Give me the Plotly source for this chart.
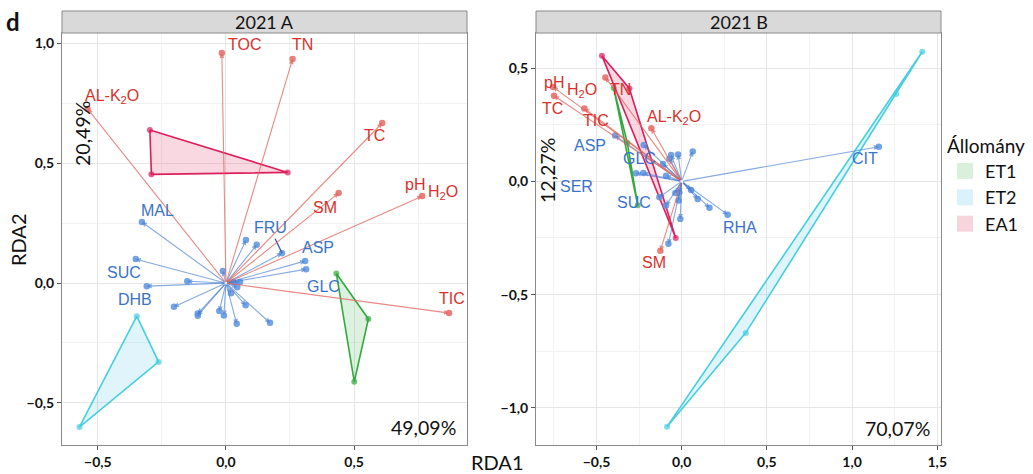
import plotly.graph_objects as go

# ---------------- data: panel 2021 A ----------------
envA_names = ["TOC", "TN", "AL-K<sub>2</sub>O", "TC", "SM", "pH_H2O", "TIC"]
envA_x = [-0.016, 0.26, -0.54, 0.61, 0.44, 0.766, 0.871]
envA_y = [0.96, 0.935, 0.727, 0.668, 0.376, 0.363, -0.125]
envA_lx = [0.074, 0.30, -0.445, 0.578, 0.387, 0.80, 0.883]
envA_ly = [0.998, 0.994, 0.78, 0.618, 0.317, 0.392, -0.063]

spA_x = [-0.328, -0.352, -0.309, 0.219, 0.309, 0.313, 0.078, 0.12, -0.012, -0.151, 0.03,
         0.055, 0.044, 0.02, -0.203, -0.11, -0.11, -0.026, -0.008, 0.077, 0.042, 0.172]
spA_y = [0.255, 0.10, -0.013, 0.125, 0.092, 0.058, 0.18, 0.16, 0.05, 0.008, 0.005,
         0.004, -0.017, -0.043, -0.099, -0.127, -0.136, -0.117, -0.135, -0.093, -0.17, -0.166]
spA_names = ["MAL", "SUC", "DHB", "FRU", "ASP", "GLC"]
spA_lx = [-0.266, -0.398, -0.355, 0.172, 0.359, 0.379]
spA_ly = [0.305, 0.046, -0.067, 0.23, 0.15, -0.013]

grpA = {
    "ET1": ([0.431, 0.556, 0.501], [0.040, -0.150, -0.412]),
    "ET2": ([-0.348, -0.263, -0.572], [-0.138, -0.329, -0.601]),
    "EA1": ([-0.297, -0.291, 0.241], [0.639, 0.454, 0.462]),
}

# ---------------- data: panel 2021 B ----------------
envB_names = ["pH_H2O", "TC", "TIC", "TN", "AL-K<sub>2</sub>O", "SM"]
envB_x = [-0.755, -0.749, -0.571, -0.448, -0.178, -0.125]
envB_y = [0.417, 0.378, 0.322, 0.459, 0.234, -0.306]
envB_lx = [-0.655, -0.759, -0.501, -0.36, -0.045, -0.16]
envB_ly = [0.413, 0.32, 0.268, 0.405, 0.281, -0.36]

spB_x = [1.157, 0.27, -0.391, -0.223, -0.062, -0.021, 0.065, -0.072, -0.11, -0.268, -0.225,
         -0.092, 0.055, 0.094, 0.163, -0.131, -0.037, -0.018, -0.008, -0.078, -0.092, -0.014]
spB_y = [0.153, -0.147, 0.202, 0.16, 0.116, 0.119, 0.132, 0.1, 0.077, 0.036, 0.037,
         0.025, -0.038, -0.078, -0.117, -0.07, -0.051, -0.085, -0.166, -0.276, -0.107, -0.049]
spB_names = ["CIT", "RHA", "ASP", "GLC", "SER", "SUC"]
spB_lx = [1.078, 0.345, -0.538, -0.248, -0.618, -0.278]
spB_ly = [0.10, -0.204, 0.158, 0.10, -0.023, -0.094]

grpB = {
    "ET1": ([-0.399, -0.319, -0.258], [0.412, 0.17, -0.106]),
    "ET2": ([1.412, 0.376, -0.086], [0.572, -0.669, -1.083]),
    "EA1": ([-0.468, -0.307, -0.035], [0.555, 0.41, -0.25]),
}
extraB_ET2 = ([1.259], [0.386])

groups = ["ET1", "ET2", "EA1"]
line_col = {"ET1": "#33A93F", "ET2": "#45CFE0", "EA1": "#DD1E5C"}
fill_col = {"ET1": "rgba(60,180,80,0.18)", "ET2": "rgba(80,200,235,0.18)", "EA1": "rgba(225,40,90,0.18)"}
leg_col = {"ET1": "#D8F0DC", "ET2": "#DAF2FC", "EA1": "#F8D5DD"}

pct_text = ["20,49%", "49,09%", "12,27%", "70,07%"]

RED_LINE = "rgba(226,100,92,0.75)"
RED_DOT = "#E36A64"
RED_TXT = "#D8312B"
BLUE_LINE = "rgba(70,125,210,0.65)"
BLUE_DOT = "#5A93E0"
BLUE_TXT = "#3A74C8"
LABEL_FONT = "Liberation Sans, Arial, sans-serif"
CAL_FONT = "Lato, Open Sans, sans-serif"

fig = go.Figure()
ann = []


def add_panel(xr, yr, env_x, env_y, sp_x, sp_y, grp, extra=None):
    for g in groups:
        gx, gy = grp[g]
        fig.add_trace(go.Scatter(
            x=list(gx) + [gx[0]], y=list(gy) + [gy[0]], xaxis=xr, yaxis=yr,
            mode="lines", fill="toself", fillcolor=fill_col[g],
            line=dict(color=line_col[g], width=1.6), showlegend=False, hoverinfo="skip"))
        px, py = list(gx), list(gy)
        if extra is not None and g == "ET2":
            px += extra[0]
            py += extra[1]
        fig.add_trace(go.Scatter(
            x=px, y=py, xaxis=xr, yaxis=yr, mode="markers",
            marker=dict(color=line_col[g], size=6, opacity=0.7),
            showlegend=False, hoverinfo="skip"))
    axref = "x" if xr == "x" else "x2"
    ayref = "y" if yr == "y" else "y2"
    for xs, ys, col in ((sp_x, sp_y, BLUE_LINE), (env_x, env_y, RED_LINE)):
        for a, b in zip(xs, ys):
            ann.append(dict(x=a, y=b, ax=0, ay=0, xref=axref, yref=ayref,
                            axref=axref, ayref=ayref, showarrow=True, text="",
                            arrowhead=2, arrowsize=0.9, arrowwidth=1.1,
                            arrowcolor=col, standoff=0))
    fig.add_trace(go.Scatter(x=sp_x, y=sp_y, xaxis=xr, yaxis=yr, mode="markers",
                             marker=dict(color=BLUE_DOT, size=6.5, opacity=0.85),
                             showlegend=False, hoverinfo="skip"))
    fig.add_trace(go.Scatter(x=env_x, y=env_y, xaxis=xr, yaxis=yr, mode="markers",
                             marker=dict(color=RED_DOT, size=6.5, opacity=0.85),
                             showlegend=False, hoverinfo="skip"))


add_panel("x", "y", envA_x, envA_y, spA_x, spA_y, grpA)
add_panel("x2", "y2", envB_x, envB_y, spB_x, spB_y, grpB, extraB_ET2)

# FRU leader segment (label -> point)
fig.add_trace(go.Scatter(x=[spA_lx[3] + 0.02, spA_x[3]], y=[spA_ly[3] - 0.045, spA_y[3]],
                         xaxis="x", yaxis="y", mode="lines",
                         line=dict(color="#2F5FA8", width=1.3), showlegend=False, hoverinfo="skip"))


def add_labels(names, lx, ly, col, xr, yr):
    for n, a, b in zip(names, lx, ly):
        f = dict(family=LABEL_FONT, size=16, color=col)
        if n == "pH_H2O":
            ann.append(dict(x=a, y=b, xref=xr, yref=yr, text="pH", showarrow=False,
                            xanchor="right", yanchor="middle", xshift=-4, yshift=5, font=f))
            ann.append(dict(x=a, y=b, xref=xr, yref=yr, text="H<sub>2</sub>O", showarrow=False,
                            xanchor="left", yanchor="middle", xshift=-5, yshift=-3, font=f))
        else:
            ann.append(dict(x=a, y=b, xref=xr, yref=yr, text=n, showarrow=False,
                            xanchor="center", yanchor="middle", font=f))


add_labels(envA_names, envA_lx, envA_ly, RED_TXT, "x", "y")
add_labels(spA_names, spA_lx, spA_ly, BLUE_TXT, "x", "y")
add_labels(envB_names, envB_lx, envB_ly, RED_TXT, "x2", "y2")
add_labels(spB_names, spB_lx, spB_ly, BLUE_TXT, "x2", "y2")

# legend-only traces (square keys)
for g in groups:
    fig.add_trace(go.Scatter(x=[None], y=[None], mode="markers",
                             marker=dict(symbol="square", size=19, color=leg_col[g]),
                             name=g, showlegend=True))

pct_cfg = [(-0.5625, 0.626, "x", "y", -90), (0.773, -0.605, "x", "y", 0),
           (-0.789, 0.047, "x2", "y2", -90), (1.267, -1.091, "x2", "y2", 0)]
for t, (a, b, xr, yr, ang) in zip(pct_text, pct_cfg):
    ann.append(dict(x=a, y=b, xref=xr, yref=yr, text=t, showarrow=False, textangle=ang,
                    xanchor="center", yanchor="middle",
                    font=dict(family=CAL_FONT, size=19.5, color="#111111")))

W, H = 1033, 474
dA = [62 / W, 467 / W]
dB = [536 / W, 941 / W]
dY = [(H - 445) / H, (H - 33) / H]
strip_top = (H - 11) / H

shapes = []
for d, title in ((dA, "2021 A"), (dB, "2021 B")):
    shapes.append(dict(type="rect", xref="paper", yref="paper", x0=d[0], x1=d[1],
                       y0=dY[1], y1=strip_top, fillcolor="#D9D9D9",
                       line=dict(color="#8A8A8A", width=1), layer="above"))
    ann.append(dict(x=(d[0] + d[1]) / 2, y=(dY[1] + strip_top) / 2, xref="paper", yref="paper",
                    text=title, showarrow=False, xanchor="center", yanchor="middle",
                    font=dict(family=CAL_FONT, size=18, color="#111111")))

ann.append(dict(x=13 / W, y=(H - 22) / H, xref="paper", yref="paper", text="<b>d</b>",
                showarrow=False, xanchor="center", yanchor="middle",
                font=dict(family=CAL_FONT, size=24, color="#111111")))
ann.append(dict(x=18 / W, y=(H - 240) / H, xref="paper", yref="paper", text="RDA2",
                textangle=-90, showarrow=False, xanchor="center", yanchor="middle",
                font=dict(family=CAL_FONT, size=20, color="#111111")))
ann.append(dict(x=497 / W, y=(H - 462) / H, xref="paper", yref="paper", text="RDA1",
                showarrow=False, xanchor="center", yanchor="middle",
                font=dict(family=CAL_FONT, size=20, color="#111111")))

axis_common = dict(showgrid=True, gridcolor="#E6E6E6", gridwidth=1, zeroline=False,
                   showline=True, linecolor="#8A8A8A", linewidth=1, mirror=True,
                   ticks="outside", ticklen=4, tickcolor="#555555", tickformat=".1f",
                   tickfont=dict(family=CAL_FONT, size=14, color="#111111", weight="bold"),
                   automargin=False,
                   minor=dict(dtick=0.25, showgrid=True, gridcolor="#F2F2F2", gridwidth=1))

fig.update_layout(
    width=W, height=H, margin=dict(l=0, r=0, t=0, b=0),
    plot_bgcolor="white", paper_bgcolor="white", separators=",.",
    xaxis=dict(domain=dA, range=[-0.64, 0.941], dtick=0.5, tick0=0, anchor="y", **axis_common),
    yaxis=dict(domain=dY, range=[-0.676, 1.044], dtick=0.5, tick0=0, anchor="x", **axis_common),
    xaxis2=dict(domain=dB, range=[-0.855, 1.522], dtick=0.5, tick0=0, anchor="y2", **axis_common),
    yaxis2=dict(domain=dY, range=[-1.164, 0.655], dtick=0.5, tick0=0, anchor="x2", **axis_common),
    shapes=shapes, annotations=ann,
    legend=dict(x=945 / W, y=(H - 128) / H, xanchor="left", yanchor="top",
                title=dict(text="Állomány", font=dict(family=CAL_FONT, size=19, color="#111111")),
                font=dict(family=CAL_FONT, size=18, color="#111111"),
                bgcolor="rgba(0,0,0,0)", tracegroupgap=0, itemsizing="trace"),
    showlegend=True,
)

fig.write_html("out.html")
